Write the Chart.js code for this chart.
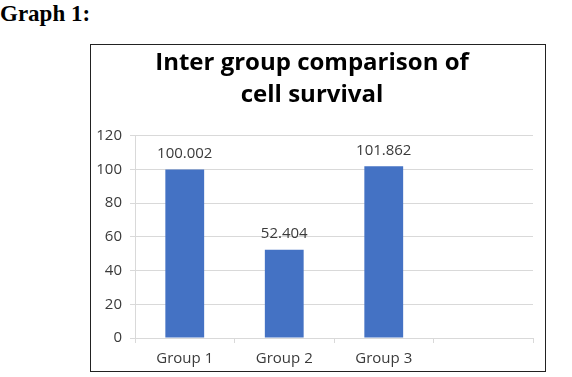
<!DOCTYPE html>
<html>
<head>
<meta charset="utf-8">
<script src="https://cdn.jsdelivr.net/npm/chart.js@4"></script>
<style>
    html, body { margin: 0; padding: 0; background: #fff; }
    body { width: 572px; height: 377px; position: relative; overflow: hidden; }
    #caption {
        position: absolute; left: 0; top: 1px;
        font-family: "Liberation Serif", "Times New Roman", serif;
        font-weight: bold; font-size: 23px; color: #000;
    }
    #frame {
        position: absolute; left: 90px; top: 44px;
        width: 454px; height: 326px;
        border: 1.5px solid #222;
    }
    #chartBox { position: absolute; left: 91px; top: 45px; width: 453px; height: 325px; }
</style>
</head>
<body>
<div id="caption">Graph 1:</div>
<div id="frame"></div>
<div id="chartBox"><canvas id="survivalChart"></canvas></div>
<script>
const categories = ["Group 1", "Group 2", "Group 3", ""];
const survivalValues = [100.002, 52.404, 101.862, null];
const titleLines = ["Inter group comparison of", "cell survival"];
const yMin = 0;
const yMax = 120;
const yStep = 20;

const textColor = "#3a3a3a";
const gridColor = "#d9d9d9";
const fontFamily = "'Open Sans', Lato, sans-serif";

// value labels above each bar
const valueLabels = {
    id: "valueLabels",
    afterDatasetsDraw(chart) {
        const ctx = chart.ctx;
        const meta = chart.getDatasetMeta(0);
        ctx.save();
        ctx.font = "15px " + fontFamily;
        ctx.fillStyle = textColor;
        ctx.textAlign = "center";
        ctx.textBaseline = "middle";
        meta.data.forEach(function (bar, i) {
            const v = survivalValues[i];
            if (v === null || v === undefined) return;
            ctx.fillText(v.toFixed(3), bar.x, bar.y - 16);
        });
        ctx.restore();
    },
};

const ctx = document.getElementById("survivalChart").getContext("2d");
new Chart(ctx, {
    type: "bar",
    data: {
        labels: categories,
        datasets: [
            {
                data: survivalValues,
                backgroundColor: "#4472c4",
                borderWidth: 0,
                categoryPercentage: 1,
                barPercentage: 0.39,
            },
        ],
    },
    options: {
        responsive: true,
        maintainAspectRatio: false,
        animation: false,
        layout: {
            padding: { top: 0, right: 11, bottom: 0, left: 0 },
        },
        plugins: {
            legend: { display: false },
            tooltip: { enabled: false },
            title: {
                display: true,
                text: titleLines,
                color: "#000",
                font: { family: fontFamily, size: 24, weight: "bold", lineHeight: 1.35 },
                padding: { top: 2, bottom: 24 },
            },
        },
        scales: {
            x: {
                grid: {
                    display: true,
                    drawOnChartArea: false,
                    drawTicks: true,
                    tickLength: 5,
                    color: gridColor,
                },
                border: { color: gridColor },
                ticks: {
                    color: textColor,
                    padding: 7,
                    maxRotation: 0,
                    font: { family: fontFamily, size: 15 },
                },
                afterFit: function (scale) {
                    scale.height = 32;
                },
            },
            y: {
                min: yMin,
                max: yMax,
                ticks: {
                    stepSize: yStep,
                    color: textColor,
                    padding: 8,
                    font: { family: fontFamily, size: 15 },
                },
                grid: {
                    color: gridColor,
                    tickLength: 5,
                },
                border: { color: gridColor },
                afterFit: function (scale) {
                    scale.width = 44;
                },
            },
        },
    },
    plugins: [valueLabels],
});
</script>
</body>
</html>
